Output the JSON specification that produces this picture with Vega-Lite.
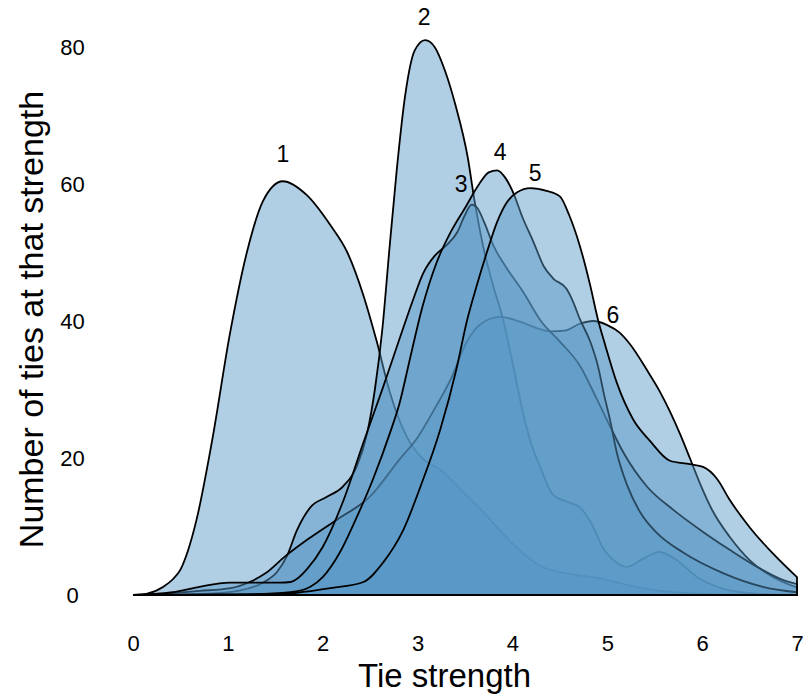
{
"$schema": "https://vega.github.io/schema/vega-lite/v6.json",
"width": 664, "height": 548,
"autosize": "none",
"padding": {"left": 133, "top": 47, "right": 9, "bottom": 103},
"background": "white",
"config": {"view": {"stroke": null}, "font": "Liberation Sans"},
"data": {"values": [
{"s":1,"x":0,"y":0},{"s":1,"x":0.15,"y":0.2},{"s":1,"x":0.32,"y":1.2},{"s":1,"x":0.42,"y":2.3},{"s":1,"x":0.5,"y":3.7},{"s":1,"x":0.58,"y":6.5},{"s":1,"x":0.67,"y":11},{"s":1,"x":0.84,"y":23},{"s":1,"x":1.02,"y":38},{"s":1,"x":1.2,"y":50},{"s":1,"x":1.37,"y":57.5},{"s":1,"x":1.58,"y":60.4},{"s":1,"x":1.83,"y":58.4},{"s":1,"x":2.08,"y":54},{"s":1,"x":2.26,"y":50},{"s":1,"x":2.43,"y":43.7},{"s":1,"x":2.57,"y":37},{"s":1,"x":2.71,"y":29.5},{"s":1,"x":2.89,"y":23},{"s":1,"x":3.06,"y":19.8},{"s":1,"x":3.24,"y":18.3},{"s":1,"x":3.48,"y":15},{"s":1,"x":3.7,"y":12},{"s":1,"x":4.0,"y":7.5},{"s":1,"x":4.3,"y":4.2},{"s":1,"x":4.6,"y":3.1},{"s":1,"x":4.9,"y":2.5},{"s":1,"x":5.3,"y":1.2},{"s":1,"x":5.7,"y":0.4},{"s":1,"x":6.2,"y":0.1},{"s":1,"x":7,"y":0},
{"s":2,"x":0,"y":0},{"s":2,"x":0.8,"y":0.2},{"s":2,"x":1.1,"y":0.6},{"s":2,"x":1.37,"y":1.8},{"s":2,"x":1.52,"y":3.4},{"s":2,"x":1.62,"y":5.6},{"s":2,"x":1.73,"y":9.5},{"s":2,"x":1.87,"y":12.8},{"s":2,"x":2.04,"y":14.3},{"s":2,"x":2.21,"y":15.8},{"s":2,"x":2.36,"y":18.8},{"s":2,"x":2.47,"y":23.7},{"s":2,"x":2.55,"y":30},{"s":2,"x":2.63,"y":39},{"s":2,"x":2.7,"y":50},{"s":2,"x":2.78,"y":62},{"s":2,"x":2.87,"y":73},{"s":2,"x":2.97,"y":79.5},{"s":2,"x":3.08,"y":81},{"s":2,"x":3.18,"y":80},{"s":2,"x":3.29,"y":76.5},{"s":2,"x":3.4,"y":71.5},{"s":2,"x":3.53,"y":63.8},{"s":2,"x":3.6,"y":57.6},{"s":2,"x":3.69,"y":51},{"s":2,"x":3.8,"y":45},{"s":2,"x":3.9,"y":40.3},{"s":2,"x":4.0,"y":34},{"s":2,"x":4.11,"y":26.7},{"s":2,"x":4.2,"y":22},{"s":2,"x":4.29,"y":18.8},{"s":2,"x":4.43,"y":14.6},{"s":2,"x":4.58,"y":13.6},{"s":2,"x":4.71,"y":12.8},{"s":2,"x":4.85,"y":10},{"s":2,"x":4.95,"y":7},{"s":2,"x":5.1,"y":4.7},{"s":2,"x":5.2,"y":4.1},{"s":2,"x":5.38,"y":5.3},{"s":2,"x":5.55,"y":6.3},{"s":2,"x":5.73,"y":5.1},{"s":2,"x":5.95,"y":2.6},{"s":2,"x":6.16,"y":1.2},{"s":2,"x":6.4,"y":0.4},{"s":2,"x":6.7,"y":0.1},{"s":2,"x":7,"y":0},
{"s":6,"x":0,"y":0},{"s":6,"x":0.3,"y":0.2},{"s":6,"x":0.7,"y":0.6},{"s":6,"x":1.03,"y":1},{"s":6,"x":1.23,"y":1.9},{"s":6,"x":1.4,"y":3.2},{"s":6,"x":1.6,"y":5.6},{"s":6,"x":1.85,"y":8.2},{"s":6,"x":2.15,"y":11},{"s":6,"x":2.5,"y":14.4},{"s":6,"x":2.81,"y":19.8},{"s":6,"x":3.0,"y":23},{"s":6,"x":3.16,"y":26.7},{"s":6,"x":3.35,"y":31.5},{"s":6,"x":3.52,"y":37},{"s":6,"x":3.66,"y":39.5},{"s":6,"x":3.87,"y":40.6},{"s":6,"x":4.08,"y":39.9},{"s":6,"x":4.25,"y":39},{"s":6,"x":4.4,"y":38.5},{"s":6,"x":4.55,"y":38.6},{"s":6,"x":4.71,"y":39.6},{"s":6,"x":4.85,"y":40},{"s":6,"x":5.0,"y":39.4},{"s":6,"x":5.13,"y":38.3},{"s":6,"x":5.24,"y":36.6},{"s":6,"x":5.42,"y":32.8},{"s":6,"x":5.55,"y":29.8},{"s":6,"x":5.66,"y":26.8},{"s":6,"x":5.77,"y":23.4},{"s":6,"x":5.87,"y":20},{"s":6,"x":5.98,"y":16.2},{"s":6,"x":6.11,"y":12.3},{"s":6,"x":6.29,"y":8.5},{"s":6,"x":6.5,"y":5.1},{"s":6,"x":6.75,"y":2.6},{"s":6,"x":7,"y":1.1},
{"s":3,"x":0,"y":0},{"s":3,"x":0.2,"y":0.1},{"s":3,"x":0.42,"y":0.4},{"s":3,"x":0.7,"y":1.2},{"s":3,"x":1.02,"y":1.8},{"s":3,"x":1.3,"y":1.8},{"s":3,"x":1.55,"y":1.8},{"s":3,"x":1.66,"y":1.9},{"s":3,"x":1.75,"y":2.6},{"s":3,"x":1.83,"y":3.7},{"s":3,"x":2.0,"y":7},{"s":3,"x":2.21,"y":13.5},{"s":3,"x":2.43,"y":22.3},{"s":3,"x":2.64,"y":30.5},{"s":3,"x":2.8,"y":37},{"s":3,"x":2.95,"y":43},{"s":3,"x":3.06,"y":47},{"s":3,"x":3.18,"y":49.5},{"s":3,"x":3.3,"y":51},{"s":3,"x":3.42,"y":53},{"s":3,"x":3.5,"y":55.5},{"s":3,"x":3.57,"y":57},{"s":3,"x":3.63,"y":56.5},{"s":3,"x":3.7,"y":54.5},{"s":3,"x":3.8,"y":51},{"s":3,"x":3.94,"y":47.7},{"s":3,"x":4.11,"y":44.3},{"s":3,"x":4.3,"y":40},{"s":3,"x":4.5,"y":37},{"s":3,"x":4.71,"y":33.5},{"s":3,"x":4.89,"y":28.6},{"s":3,"x":5.03,"y":24.6},{"s":3,"x":5.17,"y":20.8},{"s":3,"x":5.42,"y":15.8},{"s":3,"x":5.69,"y":12.5},{"s":3,"x":5.98,"y":9.5},{"s":3,"x":6.29,"y":6.6},{"s":3,"x":6.58,"y":4.1},{"s":3,"x":6.85,"y":2.2},{"s":3,"x":7,"y":1.6},
{"s":4,"x":0,"y":0},{"s":4,"x":1.2,"y":0.1},{"s":4,"x":1.66,"y":0.4},{"s":4,"x":1.87,"y":1.2},{"s":4,"x":2.0,"y":2.6},{"s":4,"x":2.18,"y":6.2},{"s":4,"x":2.36,"y":11.4},{"s":4,"x":2.53,"y":16.9},{"s":4,"x":2.71,"y":23.7},{"s":4,"x":2.81,"y":28},{"s":4,"x":2.92,"y":34.5},{"s":4,"x":3.05,"y":42},{"s":4,"x":3.2,"y":48.5},{"s":4,"x":3.35,"y":53},{"s":4,"x":3.5,"y":56.5},{"s":4,"x":3.65,"y":60},{"s":4,"x":3.75,"y":61.7},{"s":4,"x":3.84,"y":62},{"s":4,"x":3.92,"y":61},{"s":4,"x":4.0,"y":59},{"s":4,"x":4.11,"y":55},{"s":4,"x":4.22,"y":51.6},{"s":4,"x":4.33,"y":48},{"s":4,"x":4.43,"y":46.2},{"s":4,"x":4.57,"y":44.7},{"s":4,"x":4.64,"y":42.8},{"s":4,"x":4.71,"y":40.3},{"s":4,"x":4.82,"y":37},{"s":4,"x":4.9,"y":33.5},{"s":4,"x":4.97,"y":29},{"s":4,"x":5.03,"y":25.5},{"s":4,"x":5.1,"y":20.8},{"s":4,"x":5.21,"y":16},{"s":4,"x":5.35,"y":12},{"s":4,"x":5.52,"y":9.1},{"s":4,"x":5.8,"y":6.2},{"s":4,"x":6.22,"y":3.2},{"s":4,"x":6.64,"y":1.2},{"s":4,"x":7,"y":0.4},
{"s":5,"x":0,"y":0},{"s":5,"x":1.5,"y":0.1},{"s":5,"x":2.08,"y":1},{"s":5,"x":2.43,"y":1.9},{"s":5,"x":2.64,"y":4.8},{"s":5,"x":2.85,"y":9.5},{"s":5,"x":3.03,"y":15.8},{"s":5,"x":3.24,"y":24.2},{"s":5,"x":3.41,"y":33},{"s":5,"x":3.52,"y":40},{"s":5,"x":3.62,"y":45},{"s":5,"x":3.73,"y":50},{"s":5,"x":3.84,"y":54.5},{"s":5,"x":3.94,"y":57.3},{"s":5,"x":4.05,"y":58.8},{"s":5,"x":4.19,"y":59.4},{"s":5,"x":4.36,"y":59},{"s":5,"x":4.5,"y":58.2},{"s":5,"x":4.6,"y":55.4},{"s":5,"x":4.71,"y":51},{"s":5,"x":4.82,"y":45.2},{"s":5,"x":4.9,"y":40.3},{"s":5,"x":4.98,"y":36.4},{"s":5,"x":5.1,"y":31},{"s":5,"x":5.27,"y":25.7},{"s":5,"x":5.45,"y":22.5},{"s":5,"x":5.66,"y":19.6},{"s":5,"x":5.87,"y":19.1},{"s":5,"x":6.01,"y":18.7},{"s":5,"x":6.16,"y":16.9},{"s":5,"x":6.29,"y":13.9},{"s":5,"x":6.5,"y":9.9},{"s":5,"x":6.75,"y":6.0},{"s":5,"x":7,"y":2.6}
]},
"encoding": {
  "x": {"field": "x", "type": "quantitative",
        "scale": {"domain": [0, 7], "nice": false, "zero": false},
        "axis": {"values": [0,1,2,3,4,5,6,7], "title": "Tie strength", "grid": false, "domain": false, "ticks": false, "tickSize": 0,
                 "labelFontSize": 22, "labelColor": "black", "labelBaseline": "alphabetic", "labelPadding": 55, "labelFlush": false,
                 "titleFontSize": 33, "titleFontWeight": "normal", "titleColor": "black", "titleX": 311, "titleY": 91, "titleBaseline": "alphabetic", "titleAlign": "center"}},
  "y": {"field": "y", "type": "quantitative", "stack": null,
        "scale": {"domain": [0, 80], "nice": false},
        "axis": {"values": [0,20,40,60,80], "title": "Number of ties at that strength", "grid": false, "domain": false, "ticks": false, "tickSize": 0,
                 "labelFontSize": 22, "labelColor": "black", "labelAlign": "center", "labelBaseline": "middle", "labelPadding": 61,
                 "titleFontSize": 34, "titleFontWeight": "normal", "titleColor": "black", "titleX": -91, "titleY": 272, "titleBaseline": "alphabetic", "titleAlign": "center", "titleAngle": 270}}
},
"layer": [
  {"transform": [{"filter": "datum.s == 1"}], "mark": {"type": "area", "interpolate": "monotone", "fill": "#5897c6", "fillOpacity": 0.47, "stroke": "black", "strokeWidth": 1.8}},
  {"transform": [{"filter": "datum.s == 2"}], "mark": {"type": "area", "interpolate": "monotone", "fill": "#5897c6", "fillOpacity": 0.47, "stroke": "black", "strokeWidth": 1.8}},
  {"transform": [{"filter": "datum.s == 6"}], "mark": {"type": "area", "interpolate": "monotone", "fill": "#5897c6", "fillOpacity": 0.47, "stroke": "black", "strokeWidth": 1.8}},
  {"transform": [{"filter": "datum.s == 3"}], "mark": {"type": "area", "interpolate": "monotone", "fill": "#5897c6", "fillOpacity": 0.47, "stroke": "black", "strokeWidth": 1.8}},
  {"transform": [{"filter": "datum.s == 4"}], "mark": {"type": "area", "interpolate": "monotone", "fill": "#5897c6", "fillOpacity": 0.47, "stroke": "black", "strokeWidth": 1.8}},
  {"transform": [{"filter": "datum.s == 5"}], "mark": {"type": "area", "interpolate": "monotone", "fill": "#5897c6", "fillOpacity": 0.47, "stroke": "black", "strokeWidth": 1.8}},
  {"data": {"values": [
     {"label": "1", "x": 1.58, "y": 64.2},
     {"label": "2", "x": 3.07, "y": 84.2},
     {"label": "3", "x": 3.46, "y": 59.9},
     {"label": "4", "x": 3.87, "y": 64.5},
     {"label": "5", "x": 4.24, "y": 61.5},
     {"label": "6", "x": 5.06, "y": 40.7}]},
   "mark": {"type": "text", "fontSize": 23, "color": "black", "align": "center", "baseline": "middle"},
   "encoding": {"text": {"field": "label", "type": "nominal"}}}
]
}
